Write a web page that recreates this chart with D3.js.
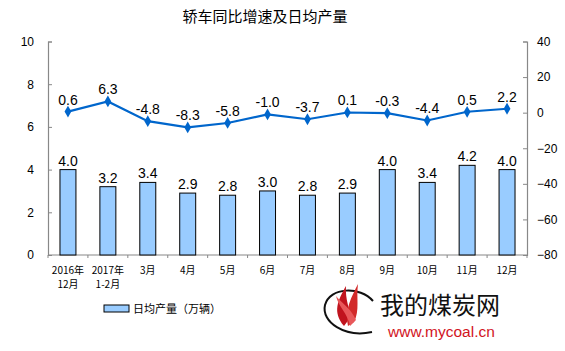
<!DOCTYPE html>
<html><head><meta charset="utf-8">
<script src="https://cdn.jsdelivr.net/npm/d3@7"></script>
<style>body{margin:0;background:#fff}svg{display:block}</style>
</head><body>
<svg id="c" width="565" height="351"></svg>
<script>
const categories = [["2016年","12月"],["2017年","1-2月"],["3月"],["4月"],["5月"],["6月"],["7月"],["8月"],["9月"],["10月"],["11月"],["12月"]];
const dailyOutput = [4.0,3.2,3.4,2.9,2.8,3.0,2.8,2.9,4.0,3.4,4.2,4.0];
const yoyGrowth = [0.6,6.3,-4.8,-8.3,-5.8,-1.0,-3.7,0.1,-0.3,-4.4,0.5,2.2];
const leftTicks = [0,2,4,6,8,10];
const rightTicks = [-80,-60,-40,-20,0,20,40];
const title = "轿车同比增速及日均产量";
const legendLabel = "日均产量（万辆）";

const svg = d3.select("#c");
const m = {l:48, r:527, t:41.5, b:255};
const x = d3.scaleBand().domain(d3.range(categories.length)).range([m.l,m.r]).paddingInner(0.6).paddingOuter(0.3);
const yL = d3.scaleLinear().domain([0,10]).range([m.b,m.t]);
const yR = d3.scaleLinear().domain([-80,40]).range([m.b,m.t]);
const font = "'Liberation Sans', Arial, sans-serif";
const cjk = "'Noto Sans CJK SC', sans-serif";

svg.append("text").attr("x",265).attr("y",22).attr("text-anchor","middle")
  .attr("font-family",cjk).attr("font-size",15).attr("fill","#000").text(title);

// axes
const axL = svg.append("g").attr("transform",`translate(${m.l},0)`)
  .call(d3.axisLeft(yL).tickValues(leftTicks).tickSize(-4).tickPadding(14).tickFormat(d3.format("d")));
const axR = svg.append("g").attr("transform",`translate(${m.r},0)`)
  .call(d3.axisRight(yR).tickValues(rightTicks).tickSize(-4).tickPadding(10).tickFormat(d3.format("d")));
[axL,axR].forEach(a=>{
  a.select(".domain").attr("stroke","#888").attr("stroke-width",1.2);
  a.selectAll(".tick line").attr("stroke","#888");
  a.selectAll("text").attr("font-family",font).attr("font-size",12).attr("fill","#000");
});
// bottom axis line
svg.append("line").attr("x1",m.l).attr("x2",m.r).attr("y1",m.b).attr("y2",m.b).attr("stroke","#888").attr("stroke-width",1.2);
const bounds = d3.range(categories.length+1).map(i=> m.l + (m.r-m.l)*i/categories.length);
svg.selectAll(".xt").data(bounds).join("line").attr("x1",d=>d).attr("x2",d=>d)
  .attr("y1",m.b).attr("y2",m.b+3).attr("stroke","#888");

categories.forEach((d,i)=>{
  const cx = x(i)+x.bandwidth()/2;
  d.forEach((s,j)=> svg.append("text").attr("x",cx).attr("y",274+j*14)
    .attr("text-anchor","middle").attr("font-family",cjk).attr("font-size",10).attr("fill","#000").text(s));
});

// bars
svg.selectAll(".bar").data(dailyOutput).join("rect")
  .attr("x",(d,i)=>x(i)).attr("width",x.bandwidth())
  .attr("y",d=>yL(d)).attr("height",d=>yL(0)-yL(d))
  .attr("fill","#99CCFF").attr("stroke","#000").attr("stroke-width",1);
svg.selectAll(".bl").data(dailyOutput).join("text")
  .attr("x",(d,i)=>x(i)+x.bandwidth()/2).attr("y",d=>yL(d)-4)
  .attr("text-anchor","middle").attr("font-family",font).attr("font-size",14).attr("fill","#000")
  .text(d=>d.toFixed(1));

// line
const line = d3.line().x((d,i)=>x(i)+x.bandwidth()/2).y(d=>yR(d));
svg.append("path").datum(yoyGrowth).attr("d",line).attr("fill","none").attr("stroke","#0066CC").attr("stroke-width",2.2);
svg.selectAll(".pt").data(yoyGrowth).join("path")
  .attr("transform",(d,i)=>`translate(${x(i)+x.bandwidth()/2},${yR(d)})`)
  .attr("d",d3.symbol().type(d3.symbolDiamond).size(40)).attr("fill","#0066CC");
svg.selectAll(".ll").data(yoyGrowth).join("text")
  .attr("x",(d,i)=>x(i)+x.bandwidth()/2).attr("y",d=>yR(d)-7)
  .attr("text-anchor","middle").attr("font-family",font).attr("font-size",14).attr("fill","#000")
  .text(d=>d.toFixed(1));

// legend
svg.append("rect").attr("x",104).attr("y",305).attr("width",25).attr("height",7)
  .attr("fill","#99CCFF").attr("stroke","#000");
svg.append("text").attr("x",133).attr("y",313).attr("font-family",cjk).attr("font-size",11)
  .attr("fill","#000").text(legendLabel);

// watermark
const wm = svg.append("g");
wm.append("path").attr("d","M373,301 C360,286 330,287 325,305 C321,322 345,338 372,332")
  .attr("fill","none").attr("stroke","#111").attr("stroke-width",2);
[["M344,326 C332,312 338,300 346,286 C345,300 350,308 350,318 Z","#c0141e"],
 ["M348,326 C344,310 352,296 358,284 C356,298 360,310 354,322 Z","#d22a2a"],
 ["M350,326 C348,314 338,306 336,296 C343,304 352,310 356,320 Z","#e8585a"]].forEach(p=>
  wm.append("path").attr("d",p[0]).attr("fill",p[1]));
wm.append("text").attr("x",380).attr("y",314).attr("font-family",cjk).attr("font-size",24).attr("fill","#111").text("我的煤炭网");
wm.append("text").attr("x",388).attr("y",337).attr("font-family",font).attr("font-size",15.5).attr("fill","#d2141e").text("www.mycoal.cn");
</script>
</body></html>
